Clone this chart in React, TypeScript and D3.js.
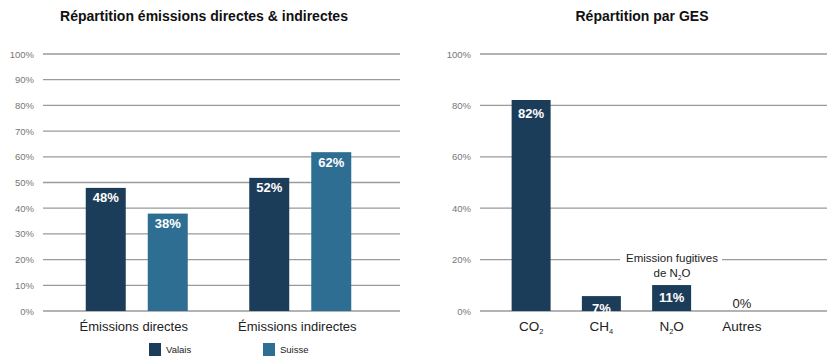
import React from "react";
import * as d3 from "d3";

const groups = ["Émissions directes", "Émissions indirectes"];
const seriesNames = ["Valais", "Suisse"];
const valaisValues = [47.9, 51.8];
const suisseValues = [37.9, 61.8];
const groupLabels = [["48%", "38%"], ["52%", "62%"]];
const leftTicks = [0, 10, 20, 30, 40, 50, 60, 70, 80, 90, 100];

const gases = ["CO2", "CH4", "N2O", "Autres"];
const gasMain = [["CO", "2"], ["CH", "4"], ["N", "2", "O"], ["Autres"]];
const gasValues = [82.1, 5.8, 10.1, 0];
const gasLabels = ["82%", "7%", "11%", "0%"];
const rightTicks = [0, 20, 40, 60, 80, 100];

const COLORS = { Valais: "#1c3d59", Suisse: "#2e6e92" };
const FONT = "'Liberation Sans', Arial, Helvetica, sans-serif";

function SubLabel({ parts, x, y, size, fill }: any) {
  return (
    <text x={x} y={y} textAnchor="middle" fontSize={size} fill={fill} fontFamily={FONT}>
      <tspan>{parts[0]}</tspan>
      {parts[1] !== undefined && (
        <tspan fontSize={size * 0.55} dy={size * 0.25}>{parts[1]}</tspan>
      )}
      {parts[2] !== undefined && <tspan dy={-size * 0.25}>{parts[2]}</tspan>}
    </text>
  );
}

export default function App() {
  const y = d3.scaleLinear().domain([0, 100]).range([311, 54]);

  const x0 = d3.scaleBand().domain(groups).range([55, 382]);
  const inner = 102;
  const x1 = d3
    .scaleBand()
    .domain(seriesNames)
    .range([0, inner])
    .paddingInner(0.355);

  const xr = d3
    .scaleBand()
    .domain(gases)
    .range([496, 777])
    .paddingInner(0.445)
    .paddingOuter(0.2225);

  const gridColor = "#9a9a9a";
  const tickColor = "#777";

  return (
    <svg
      width={827}
      height={356}
      style={{ position: "absolute", left: 0, top: 0, background: "#fff" }}
      fontFamily={FONT}
    >
      {/* Left chart */}
      <text x={204} y={21} textAnchor="middle" fontSize={14} fontWeight="bold" fill="#111">
        Répartition émissions directes &amp; indirectes
      </text>
      {leftTicks.map((t) => (
        <g key={"lt" + t}>
          <line x1={43} x2={400} y1={y(t)} y2={y(t)} stroke={gridColor} strokeWidth={1.3} />
          <text x={34} y={y(t) + 3.5} textAnchor="end" fontSize={9.5} fill={tickColor}>
            {t}%
          </text>
        </g>
      ))}
      {groups.map((g, gi) => {
        const gx = (x0(g) as number) + (x0.bandwidth() - inner) / 2;
        const vals = [valaisValues[gi], suisseValues[gi]];
        return (
          <g key={g}>
            {seriesNames.map((s, si) => {
              const bx = gx + (x1(s) as number);
              const top = y(vals[si]);
              return (
                <g key={s}>
                  <rect
                    x={bx}
                    y={top}
                    width={x1.bandwidth()}
                    height={y(0) - top}
                    fill={(COLORS as any)[s]}
                  />
                  <text
                    x={bx + x1.bandwidth() / 2}
                    y={top + 14.5}
                    textAnchor="middle"
                    fontSize={13}
                    fontWeight="bold"
                    fill="#fff"
                  >
                    {groupLabels[gi][si]}
                  </text>
                </g>
              );
            })}
            <text
              x={gx + inner / 2 - 3}
              y={331}
              textAnchor="middle"
              fontSize={13}
              fill="#222"
            >
              {g}
            </text>
          </g>
        );
      })}
      {/* Legend */}
      {seriesNames.map((s, i) => (
        <g key={"lg" + s}>
          <rect x={149 + i * 114} y={343} width={12} height={13} fill={(COLORS as any)[s]} />
          <text x={166 + i * 114} y={353} fontSize={9.5} fill="#222">
            {s}
          </text>
        </g>
      ))}

      {/* Right chart */}
      <text x={642} y={21} textAnchor="middle" fontSize={14} fontWeight="bold" fill="#111">
        Répartition par GES
      </text>
      {rightTicks.map((t) => (
        <g key={"rt" + t}>
          <line x1={480} x2={827} y1={y(t)} y2={y(t)} stroke={gridColor} strokeWidth={1.3} />
          <text x={471} y={y(t) + 3.5} textAnchor="end" fontSize={9.5} fill={tickColor}>
            {t}%
          </text>
        </g>
      ))}
      {gases.map((g, i) => {
        const bx = xr(g) as number;
        const top = y(gasValues[i]);
        const cx = bx + xr.bandwidth() / 2;
        const zero = gasValues[i] === 0;
        return (
          <g key={g}>
            {!zero && (
              <rect
                x={bx}
                y={top}
                width={xr.bandwidth()}
                height={y(0) - top}
                fill={COLORS.Valais}
              />
            )}
            <text
              x={cx}
              y={zero ? 308 : i === 0 ? top + 18 : top + 17}
              textAnchor="middle"
              fontSize={13}
              fontWeight={zero ? "normal" : "bold"}
              fill={zero ? "#222" : "#fff"}
            >
              {gasLabels[i]}
            </text>
            <SubLabel parts={gasMain[i]} x={cx} y={331} size={13.5} fill="#222" />
          </g>
        );
      })}
      {/* Annotation */}
      <rect x={620} y={250} width={102} height={16} fill="#fff" />
      <text x={672} y={262} textAnchor="middle" fontSize={11.5} fill="#222">
        Emission fugitives
      </text>
      <SubLabel parts={["de N", "2", "O"]} x={672} y={277} size={11.5} fill="#222" />
    </svg>
  );
}
